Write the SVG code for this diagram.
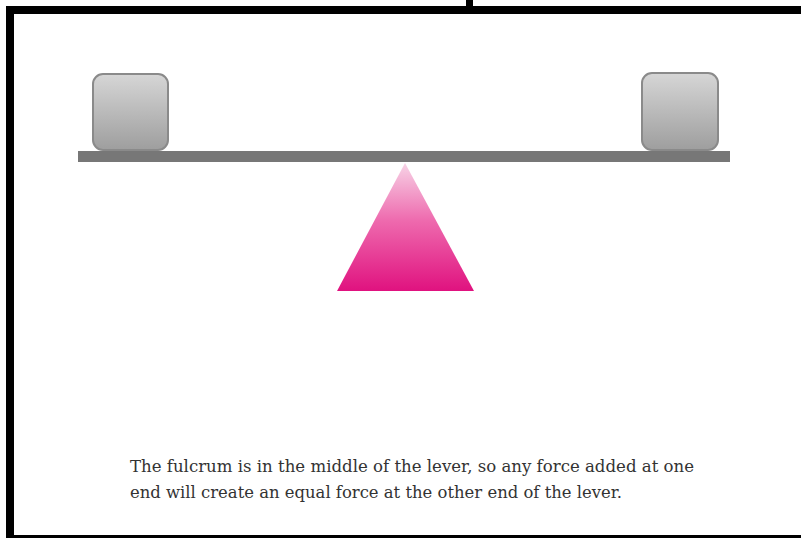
<svg xmlns="http://www.w3.org/2000/svg" width="801" height="538" viewBox="0 0 801 538">
<defs>
<linearGradient id="boxg" x1="0" y1="0" x2="0" y2="1">
<stop offset="0" stop-color="#d6d6d6"/>
<stop offset="1" stop-color="#9e9e9e"/>
</linearGradient>
<linearGradient id="trig" x1="0" y1="0" x2="0" y2="1">
<stop offset="0" stop-color="#f7d3e6"/>
<stop offset="0.45" stop-color="#ee6aae"/>
<stop offset="1" stop-color="#e0127f"/>
</linearGradient>
<style>
.box{fill:url(#boxg);stroke:#8a8a8a;stroke-width:2}
.cap{font-family:"DejaVu Serif","Liberation Serif",serif;font-size:16px;fill:#333}
</style>
</defs>
<rect width="801" height="538" fill="#fff"/>
<g id="frame" fill="#000">
<rect x="6" y="6" width="795" height="8"/>
<rect x="6" y="6" width="8" height="532"/>
<rect x="466" y="0" width="7" height="8"/>
<rect x="6" y="535" width="795" height="3"/>
</g>
<g id="lever"><rect x="78" y="151" width="652" height="11" fill="#777"/></g>
<g id="box-left"><rect class="box" x="93" y="74" width="75" height="76" rx="10"/></g>
<g id="box-right"><rect class="box" x="642" y="73" width="76" height="77" rx="10"/></g>
<g id="fulcrum"><polygon points="405,163 474,291 337,291" fill="url(#trig)"/></g>
<g id="caption">
<text class="cap" x="130" y="472" textLength="564" lengthAdjust="spacingAndGlyphs">The fulcrum is in the middle of the lever, so any force added at one</text>
<text class="cap" x="130" y="498" textLength="492" lengthAdjust="spacingAndGlyphs">end will create an equal force at the other end of the lever.</text>
</g>
</svg>
